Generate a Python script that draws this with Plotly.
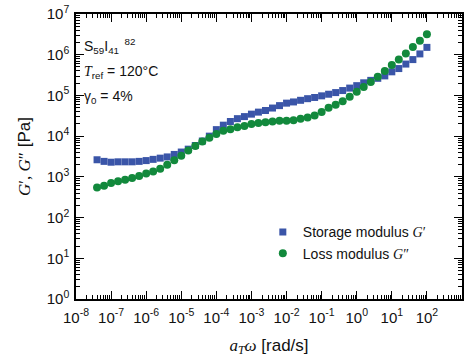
import plotly.graph_objects as go

omega = [3.98e-8, 6.31e-8, 1e-7, 1.58e-7, 2.51e-7, 3.98e-7, 6.31e-7,
         1e-6, 1.58e-6, 2.51e-6, 3.98e-6, 6.31e-6,
         1e-5, 1.58e-5, 2.51e-5, 3.98e-5, 6.31e-5,
         1e-4, 1.58e-4, 2.51e-4, 3.98e-4, 6.31e-4,
         1e-3, 1.58e-3, 2.51e-3, 3.98e-3, 6.31e-3,
         1e-2, 1.58e-2, 2.51e-2, 3.98e-2, 6.31e-2,
         0.1, 0.158, 0.251, 0.398, 0.631,
         1, 1.58, 2.51, 3.98, 6.31,
         10, 15.8, 25.1, 39.8, 63.1, 100]

G_storage = [2630, 2400, 2290, 2340, 2340, 2340, 2400, 2510, 2690, 2880,
             3090, 3550, 4070, 4790, 5890, 7590, 10000, 14450, 18600, 22900,
             26900, 30200, 34700, 38900, 42700, 49000, 56200, 64600, 69200, 75900,
             83200, 89100, 97700, 107000, 117500, 131800, 151400, 173800, 204200, 234400,
             263000, 302000, 380000, 457000, 589000, 759000, 1047000, 1514000]

G_loss = [550, 603, 708, 776, 851, 933, 1047, 1202, 1349, 1585,
          1995, 2570, 3310, 4470, 5750, 7410, 9120, 11220, 13490, 14790,
          16600, 17780, 19950, 20900, 21880, 22900, 23990, 23990, 24550, 26900,
          28840, 32360, 38900, 50100, 58900, 72400, 93300, 123000, 162200, 213800,
          288400, 398100, 562300, 758600, 1072000, 1549000, 2188000, 3162000]

x_exps = list(range(-8, 4))
y_exps = list(range(0, 8))
x_ticktext = ["10<sup>%d</sup>" % e for e in x_exps]
y_ticktext = ["10<sup>%d</sup>" % e for e in y_exps]

SERIF = "Liberation Serif"
SANS = "Liberation Sans, Arial"
BLUE = "#3a55a8"
GREEN = "#12893c"

fig = go.Figure()
fig.add_trace(go.Scatter(
    x=omega, y=G_storage, mode="markers",
    name="Storage modulus <span style='font-family:%s'><i>G</i>′</span>" % SERIF,
    marker=dict(symbol="square", size=7, color=BLUE, line=dict(width=0)),
))
fig.add_trace(go.Scatter(
    x=omega, y=G_loss, mode="markers",
    name="Loss modulus <span style='font-family:%s'><i>G</i>″</span>" % SERIF,
    marker=dict(symbol="circle", size=8, color=GREEN, line=dict(width=0)),
))

def minor_vals(exps):
    return [m * 10.0 ** e for e in exps[:-1] for m in range(2, 10)]

axis_common = dict(
    type="log", showgrid=False, zeroline=False, automargin=False,
    showline=True, linecolor="black", linewidth=1.5, mirror="ticks",
    ticks="inside", ticklen=8, tickwidth=1.2, tickcolor="black",
    tickfont=dict(family=SANS, size=15, color="#111"),
)

fig.update_xaxes(
    **axis_common,
    range=[-8, 3], ticklabelstandoff=4,
    tickmode="array", tickvals=[10.0 ** e for e in x_exps], ticktext=x_ticktext,
    minor=dict(tickmode="array", tickvals=minor_vals(x_exps), ticks="inside",
               ticklen=4, tickwidth=1, tickcolor="black", showgrid=False),
    title=dict(text="<span style='font-family:%s'><i>a</i><sub><i>T</i></sub><i>ω</i></span> [rad/s]" % SERIF,
               font=dict(family=SANS, size=17, color="#111"), standoff=14),
)
fig.update_yaxes(
    **axis_common,
    range=[0, 7], ticklabelstandoff=2,
    tickmode="array", tickvals=[10.0 ** e for e in y_exps], ticktext=y_ticktext,
    minor=dict(tickmode="array", tickvals=minor_vals(y_exps), ticks="inside",
               ticklen=4, tickwidth=1, tickcolor="black", showgrid=False),
    title=dict(text="<span style='font-family:%s'><i>G</i>′, <i>G</i>″</span> [Pa]" % SERIF,
               font=dict(family=SANS, size=17, color="#111"), standoff=12),
)

ann_font = dict(family=SANS, size=14, color="#111")
fig.add_annotation(xref="paper", yref="paper", x=0.016, y=0.888, xanchor="left", yanchor="middle",
                   showarrow=False, font=ann_font,
                   text="S<sub>59</sub>I<sub>41</sub><sup>  82</sup>")
fig.add_annotation(xref="paper", yref="paper", x=0.016, y=0.797, xanchor="left", yanchor="middle",
                   showarrow=False, font=ann_font,
                   text="<span style='font-family:%s'><i>T</i></span><sub>ref</sub> = 120°C" % SERIF)
fig.add_annotation(xref="paper", yref="paper", x=0.016, y=0.708, xanchor="left", yanchor="middle",
                   showarrow=False, font=ann_font,
                   text="γ<sub>0</sub> = 4%")

fig.update_layout(
    width=472, height=364,
    margin=dict(l=76, r=10, t=14, b=65),
    paper_bgcolor="white", plot_bgcolor="white",
    legend=dict(x=0.484, y=0.29, xanchor="left", yanchor="top",
                font=dict(family=SANS, size=14, color="#111"),
                bgcolor="rgba(0,0,0,0)", itemwidth=30, tracegroupgap=0),
    showlegend=True,
)

fig.write_html("out.html")
